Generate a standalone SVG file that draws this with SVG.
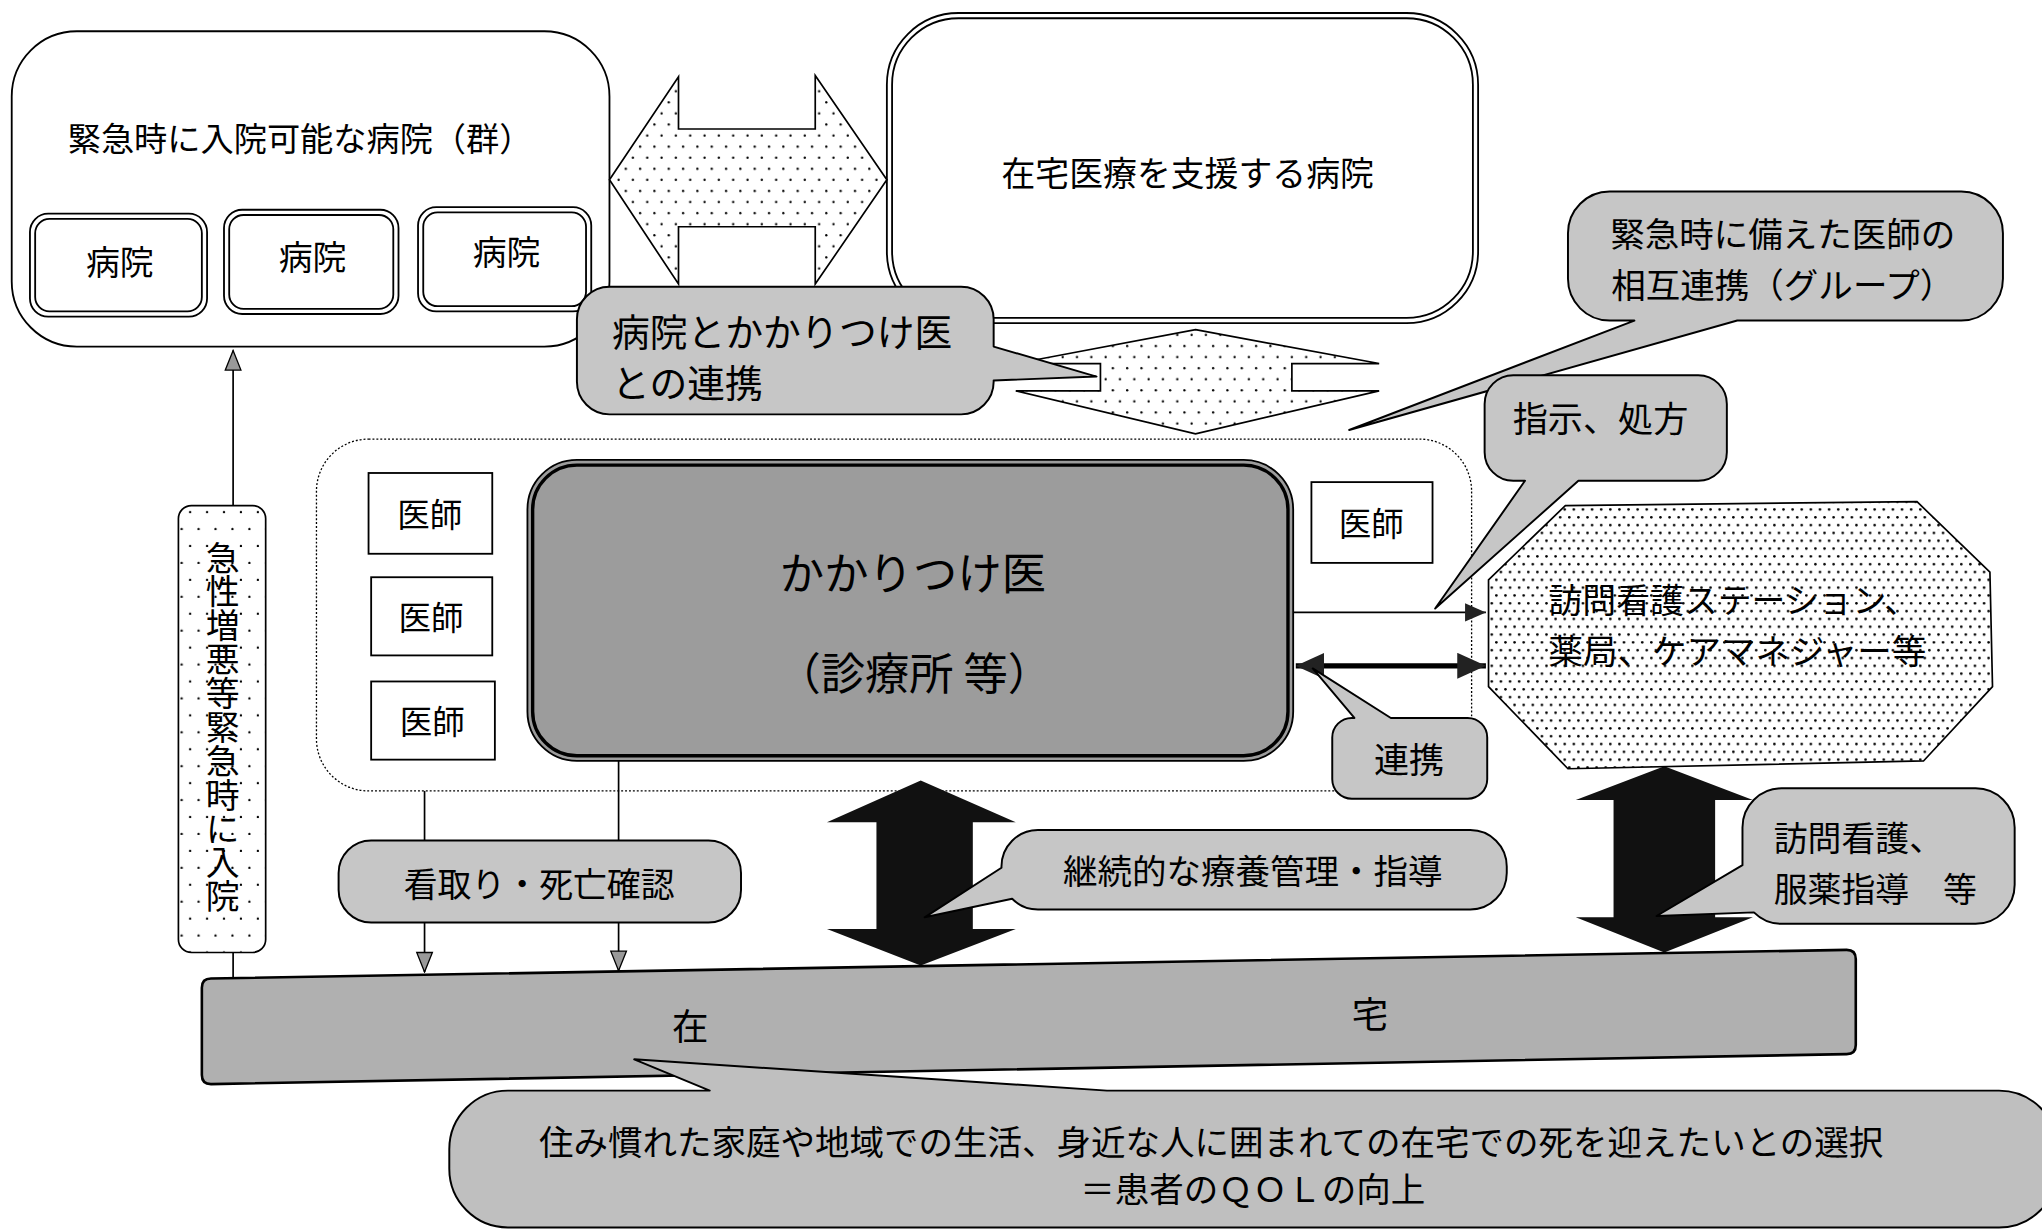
<svg xmlns="http://www.w3.org/2000/svg" width="2042" height="1230" viewBox="0 0 2042 1230">
<style>
.t{font-family:"Noto Sans CJK JP","Noto Sans CJK SC",sans-serif;fill:#000;dominant-baseline:central}
.c{text-anchor:middle}
.box{fill:#fff;stroke:#000;stroke-width:1.4}
.callout{fill:#c6c6c6;stroke:#000;stroke-width:1.5;stroke-linejoin:round}
.dot{stroke:#000;stroke-width:1.3;stroke-linejoin:miter}
.ln{fill:none;stroke:#000;stroke-width:1.3}
</style>
<defs>
<pattern id="dotsA" width="11" height="17" patternUnits="userSpaceOnUse"><rect width="11" height="17" fill="#fff"/><circle cx="2" cy="2" r="0.9" fill="#000"/><circle cx="7.5" cy="10.5" r="0.9" fill="#000"/></pattern>
<pattern id="dotsB" width="7" height="12" patternUnits="userSpaceOnUse"><rect width="7" height="12" fill="#fff"/><circle cx="1" cy="1" r="1" fill="#000"/><circle cx="4.5" cy="7" r="1" fill="#000"/></pattern>
<pattern id="dotsC" width="13" height="26" patternUnits="userSpaceOnUse"><rect width="13" height="26" fill="#fff"/><circle cx="3" cy="3" r="0.9" fill="#000"/><circle cx="9.5" cy="16" r="0.9" fill="#000"/></pattern>
<marker id="mBlk" viewBox="0 0 16 14" refX="16" refY="7" markerWidth="16" markerHeight="14" markerUnits="userSpaceOnUse" orient="auto"><path d="M0,0 L16,7 L0,14 Z" fill="#222"/></marker>
<marker id="mBig" viewBox="0 0 22 20" refX="22" refY="10" markerWidth="22" markerHeight="20" markerUnits="userSpaceOnUse" orient="auto-start-reverse"><path d="M0,0 L22,10 L0,20 Z" fill="#222"/></marker>
<marker id="mGray" viewBox="-1 -1 17 14" refX="15" refY="6" markerWidth="17" markerHeight="14" markerUnits="userSpaceOnUse" orient="auto"><path d="M0,0 L15,6 L0,12 Z" fill="#999" stroke="#000" stroke-width="1"/></marker>
</defs>
<g transform="scale(1.3023 1.3030)">

<g id="hospital-group">
<rect class="box" x="9" y="24" width="459" height="242" rx="50"/>
<text class="t" x="52" y="105" font-size="25.5">緊急時に入院可能な病院（群）</text>
</g>
<g id="hospital-1">
<rect class="box" x="23" y="164" width="136" height="79" rx="14"/>
<rect class="box" x="27" y="168" width="128" height="71" rx="11" stroke-width="2"/>
<text class="t c" x="92" y="200" font-size="26">病院</text>
</g>
<g id="hospital-2">
<rect class="box" x="172" y="161" width="134" height="80" rx="14"/>
<rect class="box" x="176" y="165" width="126" height="72" rx="11" stroke-width="2"/>
<text class="t c" x="240" y="196" font-size="26">病院</text>
</g>
<g id="hospital-3">
<rect class="box" x="321" y="159" width="133" height="80" rx="14"/>
<rect class="box" x="325" y="163" width="125" height="72" rx="11" stroke-width="2"/>
<text class="t c" x="389" y="192" font-size="26">病院</text>
</g>

<g id="support-hospital">
<rect class="box" x="681" y="10" width="454" height="238" rx="55" stroke-width="2.5"/>
<rect class="box" x="685" y="14" width="446" height="230" rx="51" stroke-width="1"/>
<text class="t c" x="912" y="132" font-size="26">在宅医療を支援する病院</text>
</g>

<g id="arrow-hospitals">
<polygon class="dot" fill="url(#dotsA)" points="468,138 521,59 521,99 626,99 626,58 681,138 626,218 626,174 521,174 521,218"/>
</g>

<g id="doctor-group">
<rect x="243" y="337" width="887" height="270" rx="40" fill="none" stroke="#000" stroke-width="1" stroke-dasharray="1.5 1.5"/>
</g>
<g id="doctor-1"><rect class="box" x="283" y="363" width="95" height="62"/><text class="t c" x="330" y="393" font-size="25">医師</text></g>
<g id="doctor-2"><rect class="box" x="285" y="443" width="93" height="60"/><text class="t c" x="331" y="472" font-size="25">医師</text></g>
<g id="doctor-3"><rect class="box" x="285" y="523" width="95" height="60"/><text class="t c" x="332" y="552" font-size="25">医師</text></g>
<g id="doctor-4"><rect class="box" x="1007" y="370" width="93" height="62"/><text class="t c" x="1053" y="400" font-size="25">医師</text></g>

<g id="family-doctor">
<rect x="405" y="353" width="588" height="231" rx="38" fill="#9c9c9c" stroke="#000" stroke-width="1.4"/>
<rect x="409" y="357" width="580" height="223" rx="34" fill="none" stroke="#000" stroke-width="2.6"/>
<text class="t c" x="701" y="438" font-size="34">かかりつけ医</text>
<text class="t c" x="702" y="515" font-size="34">（診療所 等）</text>
</g>

<g id="arrow-support">
<polygon class="dot" fill="url(#dotsA)" points="918,253 1059,279 992,279 992,300 1059,300 918,333 780,300 845,300 845,279 780,279"/>
</g>

<g id="connectors">
<path class="ln" d="M179,750 V269" marker-end="url(#mGray)"/>
<path class="ln" d="M326,607 V746" marker-end="url(#mGray)"/>
<path class="ln" d="M475,584 V745" marker-end="url(#mGray)"/>
<path class="ln" d="M993,470 H1141" marker-end="url(#mBlk)"/>
<path fill="none" stroke="#000" stroke-width="4" d="M995,511 H1141" marker-start="url(#mBig)" marker-end="url(#mBig)"/>
<polygon fill="#111" points="707,599 780,631 747,631 747,713 780,713 707,741 635,713 673,713 673,631 635,631"/>
<polygon fill="#111" points="1278,588 1346,614 1317,614 1317,704 1346,704 1278,731 1210,704 1239,704 1239,614 1210,614"/>
</g>

<g id="home-services">
<polygon class="dot" fill="url(#dotsB)" points="1143,445 1202,388 1472,385 1528,439 1530,527 1477,584 1204,590 1143,527"/>
<text class="t" x="1189" y="459" font-size="26">訪問看護ステーション、</text>
<text class="t" x="1189" y="498" font-size="26.5">薬局、ケアマネジャー等</text>
</g>

<g id="home">
<path d="M162,751 L1418,729 Q1425,729 1425,736 L1425,802 Q1425,809 1418,809 L162,832 Q155,832 155,825 L155,758 Q155,751 162,751 Z" fill="#b0b0b0" stroke="#000" stroke-width="2"/>
<text class="t c" x="530" y="786" font-size="28">在</text>
<text class="t c" x="1052" y="777" font-size="28">宅</text>
</g>

<g id="emergency-label">
<rect class="dot" fill="url(#dotsC)" x="137" y="388" width="67" height="343" rx="10"/>
<text class="t c" x="171" y="558" font-size="26" style="writing-mode:vertical-rl;dominant-baseline:auto">急性増悪等緊急時に入院</text>
</g>

<g id="callout-hospital-link">
<path class="callout" d="M468,220 H738 A25,25 0 0 1 763,245 V266 L842,289 L763,292 V293 A25,25 0 0 1 738,318 H468 A25,25 0 0 1 443,293 V245 A25,25 0 0 1 468,220 Z"/>
<text class="t" x="470" y="253" font-size="29">病院とかかりつけ医</text>
<text class="t" x="470" y="292" font-size="29">との連携</text>
</g>

<g id="callout-group">
<path class="callout" d="M1236,147 H1506 A32,32 0 0 1 1538,179 V214 A32,32 0 0 1 1506,246 H1334 L1036,330 L1255,246 H1236 A32,32 0 0 1 1204,214 V179 A32,32 0 0 1 1236,147 Z"/>
<text class="t c" x="1369" y="178" font-size="26.5">緊急時に備えた医師の</text>
<text class="t c" x="1369" y="217" font-size="26.5">相互連携（グループ）</text>
</g>

<g id="callout-instruction">
<path class="callout" d="M1162,288 H1304 A22,22 0 0 1 1326,310 V347 A22,22 0 0 1 1304,369 H1212 L1102,467 L1171,369 H1162 A22,22 0 0 1 1140,347 V310 A22,22 0 0 1 1162,288 Z"/>
<text class="t c" x="1229" y="320" font-size="27">指示、処方</text>
</g>

<g id="callout-link">
<path class="callout" d="M1038,551 H1040 L1008,513 L1068,551 H1127 A15,15 0 0 1 1142,566 V598 A15,15 0 0 1 1127,613 H1038 A15,15 0 0 1 1023,598 V566 A15,15 0 0 1 1038,551 Z"/>
<text class="t c" x="1082" y="581" font-size="27">連携</text>
</g>

<g id="callout-care">
<path class="callout" d="M797,637 H1129 A28,28 0 0 1 1157,665 V670 A28,28 0 0 1 1129,698 H797 A28,28 0 0 1 777.2,689.8 L710,704 L769,666 V665 A28,28 0 0 1 797,637 Z"/>
<text class="t c" x="962" y="667" font-size="26.5">継続的な療養管理・指導</text>
</g>

<g id="callout-visit">
<path class="callout" d="M1368,605 H1517 A30,30 0 0 1 1547,635 V679 A30,30 0 0 1 1517,709 H1368 A30,30 0 0 1 1346.8,700.2 L1272,703 L1338,664 V635 A30,30 0 0 1 1368,605 Z"/>
<text class="t" x="1362" y="642" font-size="26">訪問看護、</text>
<text class="t" x="1362" y="681" font-size="26">服薬指導　等</text>
</g>

<g id="callout-death">
<rect class="callout" x="260" y="645" width="309" height="63" rx="25"/>
<text class="t c" x="414" y="677" font-size="26">看取り・死亡確認</text>
</g>

<g id="callout-qol">
<path class="callout" style="fill:#bfbfbf" d="M390,837 H545 L487,813 L850,837 H1535 A45,45 0 0 1 1580,882 V897 A45,45 0 0 1 1535,942 H390 A45,45 0 0 1 345,897 V882 A45,45 0 0 1 390,837 Z"/>
<text class="t c" x="930" y="875" font-size="26.5">住み慣れた家庭や地域での生活、身近な人に囲まれての在宅での死を迎えたいとの選択</text>
<text class="t c" x="962" y="911" font-size="26.5">＝患者のＱＯＬの向上</text>
</g>

</g>
</svg>
